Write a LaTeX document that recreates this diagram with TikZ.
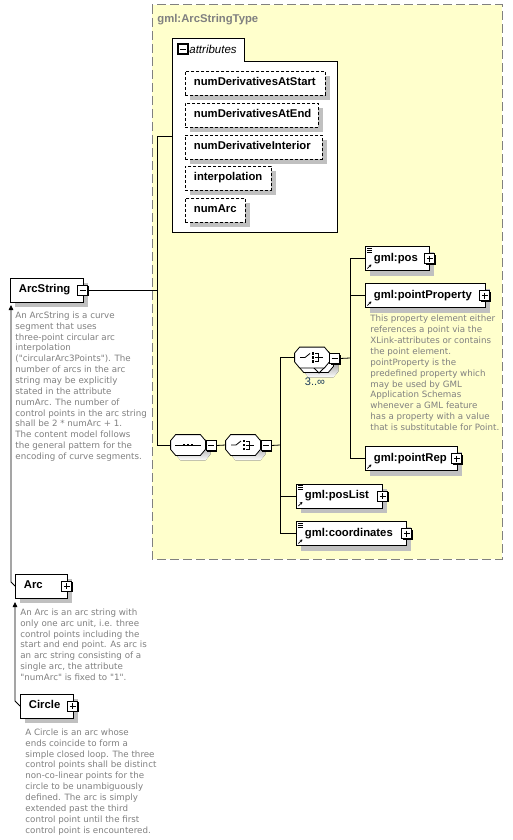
\documentclass[tikz,border=0pt]{standalone}
\usepackage{fontspec}
\setmainfont{Liberation Sans}
\newfontfamily\docfont{DejaVu Sans}
\usetikzlibrary{positioning,shadows,arrows.meta}
\definecolor{typebg}{HTML}{FFFFCC}
\definecolor{typeline}{HTML}{808080}
\definecolor{shade}{HTML}{C0C0C0}
\definecolor{desctext}{HTML}{808080}
\definecolor{occurs}{HTML}{1A3A5A}

% outline of a compositor (sequence / choice)
\newcommand{\octpath}[1]{([xshift=5pt]#1.north west) -- ([xshift=-5pt]#1.north east)
	-- ([yshift=-6pt]#1.north east) -- ([yshift=6pt]#1.south east) -- ([xshift=-5pt]#1.south east)
	-- ([xshift=5pt]#1.south west) -- ([yshift=6pt]#1.south west) -- ([yshift=-6pt]#1.north west) -- cycle}
\newcommand{\compoframe}[1]{%
	\fill[shade,transform canvas={shift={(5pt,-5pt)}}] \octpath{#1};
	\draw[fill=white] \octpath{#1};}
\newcommand{\seqicon}[1]{%
	\draw ([xshift=-13pt]#1.center) -- ([xshift=13pt]#1.center);
	\foreach \k in {-4,0,4}
		\fill ([shift={(\k pt-1.4pt,-1.4pt)}]#1.center) rectangle ++(2.8pt,2.8pt);}
\newcommand{\choiceicon}[1]{%
	\draw ([xshift=-12pt]#1.center) -- ++(5pt,0) -- ++(5pt,4pt);
	\foreach \k in {-4,0,4}
		\fill ([shift={(-0.2pt,\k pt-1.2pt)}]#1.center) rectangle ++(2.4pt,2.4pt);
	\draw ([shift={(3pt,4pt)}]#1.center) -- ++(3.5pt,0) -- ++(0,-8pt) -- ++(-3.5pt,0);
	\draw ([xshift=3pt]#1.center) -- ++(8pt,0);}

\begin{document}
\begin{tikzpicture}[x=1pt,y=-1pt,line width=0.8pt,
		shade5/.style={general shadow={fill=shade,shadow xshift=5pt,shadow yshift=-5pt}},
		conn/.style={draw,line width=0.8pt},
		derive/.style={draw,line width=0.8pt,-{Triangle[length=5pt,width=4.5pt]}},
		elem/.style={draw,fill=white,shade5,anchor=west,inner xsep=8.5pt,inner ysep=0pt,
			minimum height=24pt,text height=8pt,text depth=2.5pt,align=left,text width=#1,
			font=\fontsize{11.3}{13}\selectfont\bfseries},
		attr/.style={elem=#1,dash pattern=on 3pt off 2pt},
		desc/.style={inner sep=0pt,align=left,text=desctext,font=\docfont\fontsize{8.7}{10.85}\selectfont},
		pmbox/.style={draw,fill=white,line width=0.9pt,minimum size=10pt,inner sep=0pt,
			general shadow={fill=black,shadow xshift=1pt,shadow yshift=-1pt}},
		plus/.style={pmbox,path picture={\draw[line width=0.8pt]
			([xshift=2pt]path picture bounding box.west) -- ([xshift=-2pt]path picture bounding box.east)
			([yshift=-2pt]path picture bounding box.north) -- ([yshift=2pt]path picture bounding box.south);}},
		minus/.style={pmbox,path picture={\draw[line width=0.8pt]
			([xshift=2pt]path picture bounding box.west) -- ([xshift=-2pt]path picture bounding box.east);}},
		ref/.style={path picture={\draw[line width=0.8pt,-{Stealth[length=2.5pt,width=3pt]}]
			([shift={(2pt,2pt)}]path picture bounding box.south west) -- ++(4pt,4pt);}},
		simpleref/.style={path picture={\draw[line width=0.8pt,-{Stealth[length=2.5pt,width=3pt]}]
			([shift={(2pt,2pt)}]path picture bounding box.south west) -- ++(4pt,4pt);
			\foreach \k in {2,4,6}
				\draw[line width=0.7pt] ([shift={(2pt,-\k pt+0.5pt)}]path picture bounding box.north west) -- ++(5pt,0);}},
		compo/.style={minimum width=34pt,minimum height=20pt,inner sep=0pt}]

	% background and type box
	\fill[white] (0,0) rectangle (513,840);
	\useasboundingbox (0,0) rectangle (513,840);
	\draw[typeline,fill=typebg,line width=1pt,dash pattern=on 9pt off 4pt] (152,5) rectangle (502,559);
	\node[anchor=base west,inner sep=0pt,text=typeline,font=\fontsize{11.3}{13}\selectfont\bfseries] (typename) at (157,22.5) {gml:ArcStringType};

	% attributes
	\draw[fill=white] (172,232) -- (172,38) -- (244,38) -- (244,61) -- (337,61) -- (337,232) -- cycle;
	\coordinate (attr-w) at (172,136);
	\node[minus,line width=1.2pt] (attr-pm) at (183,49) {};
	\node[anchor=base west,inner sep=0pt,font=\fontsize{11.5}{13}\selectfont\itshape] (attr-label) at (189,54) {attributes};
	\node[attr=123pt] (numstart) at (185,83) {numDerivativesAtStart};
	\node[attr=116pt] (numend) at (185,115) {numDerivativesAtEnd};
	\node[attr=120pt] (numinterior) at (185,147) {numDerivativeInterior};
	\node[attr=69pt] (interpolation) at (185,178) {interpolation};
	\node[attr=43pt] (numarc) at (185,210) {numArc};

	% elements
	\node[elem=56pt] (arcstring) at (10,290) {ArcString};
	\node[minus] (arcstring-pm) at ([xshift=-1pt]arcstring.east) {};
	\node[desc,below right=9pt and 5pt of arcstring.south west] (arcstring-doc) {An ArcString is a curve\\segment that uses\\three-point circular arc\\interpolation\\("circularArc3Points"). The\\number of arcs in the arc\\string may be explicitly\\stated in the attribute\\numArc. The number of\\control points in the arc string\\shall be 2 * numArc + 1.\\The content model follows\\the general pattern for the\\encoding of curve segments.};

	\node[elem=35pt] (arc) at (15,586) {Arc};
	\node[plus] (arc-pm) at ([xshift=-1pt]arc.east) {};
	\node[desc,below right=10pt and 5pt of arc.south west] (arc-doc) {An Arc is an arc string with\\only one arc unit, i.e. three\\control points including the\\start and end point. As arc is\\an arc string consisting of a\\single arc, the attribute\\"numArc" is fixed to "1".};

	\node[elem=36pt] (circle) at (20,706) {Circle};
	\node[plus] (circle-pm) at ([xshift=-1pt]circle.east) {};
	\node[desc,below right=10pt and 5pt of circle.south west] (circle-doc) {A Circle is an arc whose\\ends coincide to form a\\simple closed loop. The three\\control points shall be distinct\\non-co-linear points for the\\circle to be unambiguously\\defined. The arc is simply\\extended past the third\\control point until the first\\control point is encountered.};

	% content model
	\node[compo] (seq) at (188,445) {};
	\compoframe{seq}
	\seqicon{seq}
	\node[minus] (seq-pm) at (211,445.5) {};
	\node[compo] (choice) at (243,445) {};
	\compoframe{choice}
	\choiceicon{choice}
	\node[minus] (choice-pm) at (266,445.5) {};

	\node[compo] (choice2-back) at (316,362) {};
	\compoframe{choice2-back}
	\draw[fill=white] (313,367) -- (319,373) -- (325,367);
	\node[compo] (choice2) at (312,357.5) {};
	\draw[fill=white] \octpath{choice2};
	\choiceicon{choice2}
	\node[minus] (choice2-pm) at (334.5,358.5) {};
	\node[inner sep=0pt,text=occurs,font=\fontsize{11}{13}\selectfont] (choice2-occ) at (315,381.5) {3..∞};

	\node[elem=47pt,simpleref] (pos) at (365,258.5) {gml:pos};
	\node[plus] (pos-pm) at (pos.east) {};
	\node[elem=103pt,ref] (pointproperty) at (365,295.5) {gml:pointProperty};
	\node[plus] (pointproperty-pm) at ([xshift=-1pt]pointproperty.east) {};
	\node[desc,below right=7pt and 5pt of pointproperty.south west] (pointproperty-doc) {This property element either\\references a point via the\\XLink-attributes or contains\\the point element.\\pointProperty is the\\predefined property which\\may be used by GML\\Application Schemas\\whenever a GML feature\\has a property with a value\\that is substitutable for Point.};
	\node[elem=75pt,ref] (pointrep) at (365,458.5) {gml:pointRep};
	\node[plus] (pointrep-pm) at ([xshift=-1pt]pointrep.east) {};
	\node[elem=69pt,simpleref] (poslist) at (296,496) {gml:posList};
	\node[plus] (poslist-pm) at (poslist.east) {};
	\node[elem=93pt,simpleref] (coordinates) at (296,533.5) {gml:coordinates};
	\node[plus] (coordinates-pm) at (coordinates.east) {};

	% connectors
	\coordinate (j-type) at (157,291);
	\coordinate (j-choice) at (280,445);
	\coordinate (j-seq2) at (350,358);
	\draw[conn] (attr-w) -- (attr-w -| j-type) -- (j-type |- seq.west) -- (seq.west);
	\draw[conn] (arcstring-pm.east) -- (arcstring-pm.east -| j-type);
	\draw[conn] (seq-pm.east) -- (choice.west);
	\draw[conn] (choice-pm.east) -- (j-choice);
	\draw[conn] (j-choice |- choice2.west) -- (j-choice |- coordinates.west);
	\foreach \n in {choice2,poslist,coordinates}
		\draw[conn] (j-choice |- \n.west) -- (\n.west);
	\draw[conn] (choice2-pm.east) -- (j-seq2);
	\draw[conn] (j-seq2 |- pos.west) -- (j-seq2 |- pointrep.west);
	\foreach \n in {pos,pointproperty,pointrep}
		\draw[conn] (j-seq2 |- \n.west) -- (\n.west);

	% derivation
	\coordinate (arcstring-base) at (11,305);
	\coordinate (arc-base) at (15,602);
	\draw[derive] (arc.west) -- ++(-4,-4) -- (arcstring-base);
	\draw[derive] (circle.west) -- ++(-5,-5) -- (arc-base);
\end{tikzpicture}
\end{document}
